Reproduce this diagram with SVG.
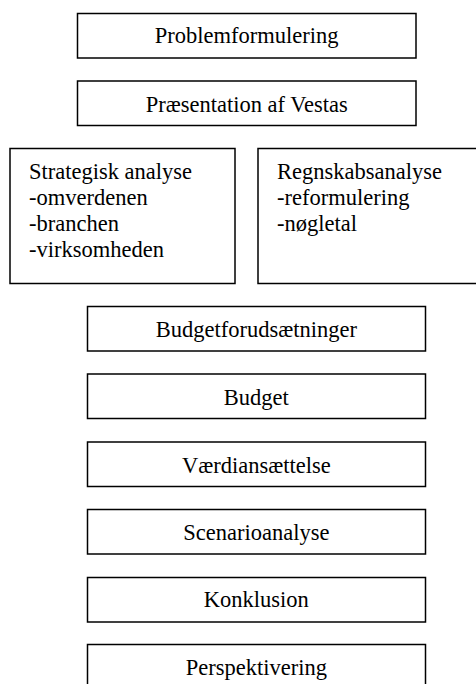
<svg xmlns="http://www.w3.org/2000/svg" width="476" height="684" viewBox="0 0 476 684">
<style>
.box{fill:#fff;stroke:#000;stroke-width:1.5}
.t{font-family:"Liberation Serif","Times New Roman",serif;font-size:22.5px;fill:#000}
.c{text-anchor:middle}
</style>
<rect width="476" height="684" fill="#fff"/>
<g id="problemformulering"><rect class="box" x="77.5" y="13.5" width="338.5" height="44.5"/><text class="t c" x="246.7" y="43">Problemformulering</text></g>
<g id="praesentation"><rect class="box" x="77.5" y="81" width="338.5" height="44.5"/><text class="t c" x="246.7" y="111.5">Præsentation af Vestas</text></g>
<g id="strategisk"><rect class="box" x="10" y="148.5" width="225" height="135"/><text class="t" x="29" y="179">Strategisk analyse</text><text class="t" x="29" y="205">-omverdenen</text><text class="t" x="29" y="231">-branchen</text><text class="t" x="29" y="257">-virksomheden</text></g>
<g id="regnskab"><rect class="box" x="258" y="148.5" width="240" height="135"/><text class="t" x="277" y="179">Regnskabsanalyse</text><text class="t" x="277" y="205">-reformulering</text><text class="t" x="277" y="231">-nøgletal</text></g>
<g id="budgetforudsaetninger"><rect class="box" x="87.5" y="306.5" width="338" height="44.5"/><text class="t c" x="256.3" y="336.5">Budgetforudsætninger</text></g>
<g id="budget"><rect class="box" x="87.5" y="374" width="338" height="44.5"/><text class="t c" x="256.3" y="405">Budget</text></g>
<g id="vaerdiansaettelse"><rect class="box" x="87.5" y="442" width="338" height="44.5"/><text class="t c" x="256.3" y="472.5">Værdiansættelse</text></g>
<g id="scenarioanalyse"><rect class="box" x="87.5" y="509.5" width="338" height="44.5"/><text class="t c" x="256.3" y="539.5">Scenarioanalyse</text></g>
<g id="konklusion"><rect class="box" x="87.5" y="577.5" width="338" height="44.5"/><text class="t c" x="256.3" y="607.3">Konklusion</text></g>
<g id="perspektivering"><rect class="box" x="87.5" y="644.5" width="338" height="60"/><text class="t c" x="256.3" y="674.5">Perspektivering</text></g>
<g id="connectors"></g>
</svg>
